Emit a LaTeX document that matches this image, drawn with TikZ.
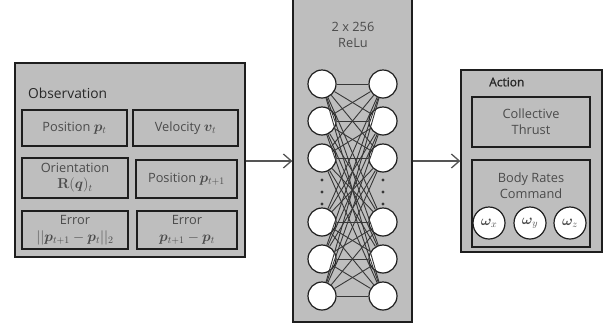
\documentclass[tikz,border=0pt]{standalone}
\usepackage{amsmath}
\usepackage{bm}
\usepackage[no-math]{fontspec}
\setmainfont{Open Sans}
\newfontfamily\headfont[FakeBold=1.2]{Open Sans}
\usetikzlibrary{arrows.meta}
\definecolor{boxfill}{RGB}{190,190,190}
\definecolor{edgecol}{RGB}{30,30,30}
\definecolor{txtcol}{RGB}{75,75,75}
\definecolor{headcol}{RGB}{40,40,40}
\definecolor{arrcol}{RGB}{85,85,85}
\definecolor{wirecol}{RGB}{55,55,55}
\newcommand{\mth}[1]{{\fontsize{14.5bp}{16bp}\selectfont$#1$}}
\begin{document}
\begin{tikzpicture}[x=1bp,y=-1bp,
  outerbox/.style={draw=edgecol,fill=boxfill,line width=1.3bp,inner sep=0pt},
  inbox/.style={draw=edgecol,fill=boxfill,line width=1.3bp,inner sep=0pt,
    text=txtcol,font=\fontsize{12.8bp}{16bp}\selectfont,align=center},
  headtext/.style={text=headcol,inner sep=0pt,anchor=west},
  neuron/.style={circle,draw=edgecol,fill=white,line width=1.2bp,minimum size=28bp,inner sep=0pt},
  omeganode/.style={circle,draw=edgecol,fill=white,line width=1.2bp,minimum size=32bp,inner sep=0pt,text=txtcol},
  wire/.style={draw=wirecol,line width=0.9bp},
  flow/.style={draw=arrcol,line width=1.3bp,-{Straight Barb[length=8bp,width=14bp]}},
  dotmark/.style={circle,fill=wirecol,inner sep=0pt,minimum size=3.2bp}]
\clip (0,0) rectangle (612,331);
\useasboundingbox (0,0) rectangle (612,331);
\fill[white] (0,0) rectangle (612,331);

% Observation
\node[outerbox,minimum width=230bp,minimum height=194bp] (obs) at (130,160) {};
\node[headtext,font=\fontsize{13.8bp}{16bp}\selectfont] (obslabel) at (28,93) {Observation};
\node[inbox,minimum width=105bp,minimum height=36bp] (pos) at (74.5,128) {Position \mth{\bm{p}_t}};
\node[inbox,minimum width=105bp,minimum height=36bp] (vel) at (185.5,128) {Velocity \mth{\bm{v}_t}};
\node[inbox,minimum width=106bp,minimum height=40bp] (ori) at (75,178) {Orientation\\[0bp]\mth{\mathbf{R}(\bm{q})_t}};
\node[inbox,minimum width=101bp,minimum height=38bp] (posn) at (186.5,179) {Position \mth{\bm{p}_{t+1}}};
\node[inbox,minimum width=106bp,minimum height=38bp] (errn) at (75,230) {Error\\[1bp]\mth{||\bm{p}_{t+1}-\bm{p}_t||_2}};
\node[inbox,minimum width=100bp,minimum height=38bp] (errv) at (187,230) {Error\\[1bp]\mth{\bm{p}_{t+1}-\bm{p}_t}};

% Network
\node[outerbox,minimum width=119bp,minimum height=327bp] (nn) at (352.5,158.5) {};
\node[text=txtcol,font=\fontsize{12.8bp}{16bp}\selectfont,align=center,inner sep=0pt] (nnlabel) at (353,35) {2 x 256\\ReLu};
\foreach \i/\yy in {1/84,2/121,3/158,4/222,5/259,6/296} {
  \node[neuron] (l\i) at (322,\yy) {};
  \node[neuron] (r\i) at (383,\yy) {};
}
\foreach \i in {1,...,6} {
  \foreach \j in {1,...,6} {
    \draw[wire] (l\i) -- (r\j);
  }
}
\foreach \k/\yy in {1/180,2/192,3/204} {
  \node[dotmark] (ld\k) at (322,\yy) {};
  \node[dotmark] (rd\k) at (383,\yy) {};
}

% Action
\node[outerbox,minimum width=141bp,minimum height=182bp] (act) at (531.5,161) {};
\node[headtext,font=\headfont\fontsize{12bp}{14bp}\selectfont] (actlabel) at (489,82) {Action};
\node[inbox,minimum width=118bp,minimum height=50bp] (thrust) at (531,122) {Collective\\Thrust};
\node[inbox,minimum width=118bp,minimum height=87bp] (rates) at (531,203.5) {};
\node[text=txtcol,font=\fontsize{12.8bp}{16bp}\selectfont,align=center,inner sep=0pt] (rateslabel) at (531,186) {Body Rates\\Command};
\node[omeganode] (wx) at (489,223) {\mth{\bm{\omega}_x}};
\node[omeganode] (wy) at (530,223) {\mth{\bm{\omega}_y}};
\node[omeganode] (wz) at (570,223) {\mth{\bm{\omega}_z}};

% Connectors
\draw[flow] (obs.east |- 0,161) -- (nn.west |- 0,161);
\draw[flow] (nn.east |- act.west) -- (act.west);
\end{tikzpicture}
\end{document}
